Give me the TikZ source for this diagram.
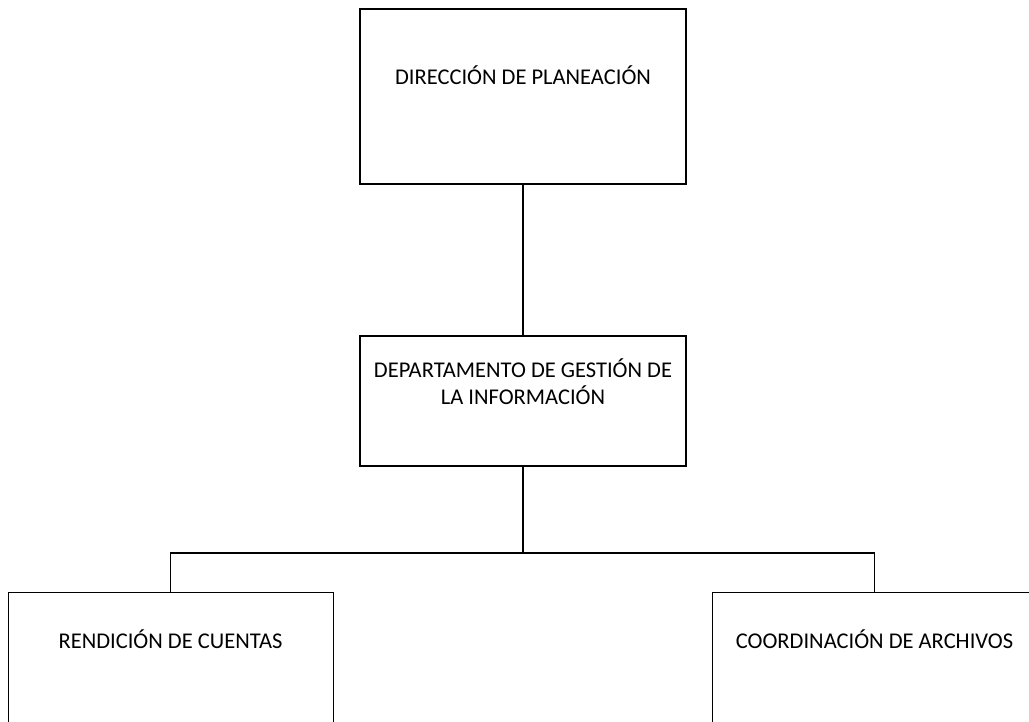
\documentclass[tikz,border=0pt]{standalone}
\usepackage{fontspec}
\setmainfont{Carlito}
\begin{document}
\begin{tikzpicture}[x=1pt,y=-1pt,
  thickbox/.style={draw=black, line width=2.2pt, minimum width=326pt, inner sep=0pt, align=center,
    font=\fontsize{22.5}{27.5}\selectfont},
  thinbox/.style={draw=black, line width=1pt, minimum width=325pt, inner sep=0pt, align=center,
    font=\fontsize{22.5}{27.5}\selectfont},
  link/.style={draw=black, line width=1.6pt}]
\clip (0,0) rectangle (1029,721);
\fill[white] (0,0) rectangle (1029,721);
% top box: 8..183, baseline at 83.5
\node[thickbox, text height=75.5pt, text depth=99.5pt] (top) at (523,8) [anchor=north] {DIRECCIÓN DE PLANEACIÓN};
% middle box: 335..465
\node[thickbox, text height=68.5pt, text depth=61.5pt] (mid) at (523,335) [anchor=north] {DEPARTAMENTO DE GESTIÓN DE\\LA INFORMACIÓN};
% bottom boxes
\node[thinbox, text height=55.5pt, text depth=150pt] (left) at (170.5,592) [anchor=north] {RENDICIÓN DE CUENTAS};
\node[thinbox, text height=55.5pt, text depth=150pt] (right) at (874.5,592) [anchor=north] {COORDINACIÓN DE ARCHIVOS};
\draw[link] (top.south) -- (mid.north);
\draw[link] (mid.south) -- ++(0,86) coordinate (j);
\draw[link] (left.north) |- (j) -| (right.north);
\end{tikzpicture}
\end{document}
